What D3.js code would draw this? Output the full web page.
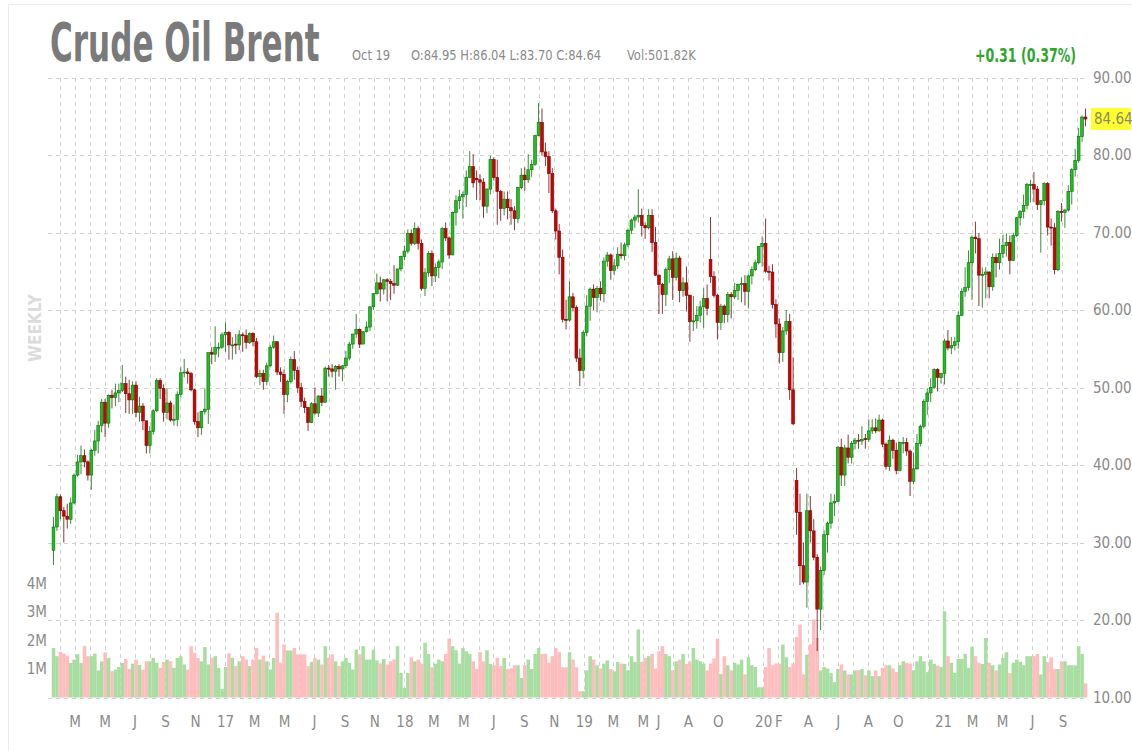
<!DOCTYPE html>
<html>
<body style="margin: 0; background: #fff">
  <script src="https://d3js.org/d3.v7.min.js"></script>

  <script>
    // weekly candles, first week starts Mon 18 Jan 2016, last one Mon 18 Oct 2021
    const FIRST_WEEK = new Date(2016, 0, 18);
    const LAST_WEEK = new Date(2021, 9, 18);

    const opens = [
      29.0, 32.0, 35.9, 34.1, 33.4, 33.0, 35.1, 38.7, 40.4, 41.2, 40.4, 38.7, 41.9, 43.1, 45.1, 48.1, 45.4, 49.0, 48.7, 49.3,
      49.6, 50.5, 49.2, 48.4, 50.3, 46.8, 47.6, 45.7, 42.5, 44.3, 47.0, 50.9, 49.9, 46.8, 48.0, 45.8, 45.9, 49.1, 51.9, 52.0,
      51.8, 49.7, 45.6, 44.8, 46.9, 47.2, 54.5, 54.3, 55.1, 55.2,
      56.8, 57.1, 55.4, 55.6, 55.5, 56.8, 56.7, 55.8, 57.0, 55.9, 51.4, 51.8, 50.8, 52.8, 55.2, 55.9, 52.0, 51.7, 49.1, 50.8,
      53.6, 52.2, 50.0, 48.2, 47.4, 45.5, 47.9, 46.7, 48.9, 48.1, 52.5, 52.4, 52.1, 52.7, 52.4, 52.8, 53.8, 55.6, 56.9, 57.5,
      55.6, 57.2, 57.8, 60.4, 62.1, 63.5, 62.7, 63.9, 63.7, 63.4, 63.2, 65.3,
      66.9, 67.6, 69.9, 68.6, 70.5, 68.6, 62.8, 64.8, 67.3, 64.4, 65.5, 66.2, 70.5, 69.3, 67.1, 72.6, 74.1, 74.6, 74.9, 77.1,
      78.5, 77.0, 76.8, 76.5, 73.4, 75.6, 79.4, 77.1, 75.3, 73.1, 74.3, 73.2, 72.8, 71.8, 75.8, 77.4, 76.8, 78.1, 78.8, 82.5,
      84.2, 80.4, 79.8, 77.6, 72.8, 70.2, 66.8, 58.8, 58.7, 61.7, 60.3, 53.8,
      52.2, 57.1, 60.5, 62.7, 61.6, 62.8, 62.1, 66.3, 67.1, 65.1, 65.7, 67.2, 67.0, 68.4, 70.3, 71.6, 72.0, 72.2, 70.9, 70.6,
      72.2, 68.7, 64.5, 63.3, 62.0, 65.2, 66.6, 64.2, 66.7, 62.5, 63.5, 61.9, 58.5, 58.6, 59.3, 60.4, 61.5, 66.5, 64.3, 61.9,
      58.4, 60.5, 59.4, 62.0, 61.7, 62.5, 63.3, 63.4, 62.4, 64.4, 65.2, 66.1, 68.2,
      68.6, 65.0, 64.9, 60.7, 58.2, 54.5, 57.3, 58.5, 49.7, 38.0, 33.9, 27.0, 24.9, 34.1, 31.5, 28.1, 21.4, 26.4, 31.0, 32.5,
      35.1, 35.3, 42.3, 38.7, 42.2, 41.0, 42.8, 43.2, 43.1, 43.4, 43.3, 44.4, 44.8, 44.4, 45.8, 42.7, 39.8, 43.2, 41.9, 39.3,
      42.8, 42.9, 41.8, 37.9, 39.5, 42.8, 45.0, 48.2, 49.3, 50.0, 52.3, 51.3,
      51.8, 56.0, 55.1, 55.4, 55.9, 59.3, 62.4, 62.9, 66.1, 69.4, 69.2, 64.5, 64.6, 64.9, 63.0, 66.8, 66.1, 67.3, 68.3, 68.7,
      66.4, 69.6, 71.9, 72.7, 73.5, 76.1, 76.2, 75.6, 73.6, 74.1, 76.3, 70.7, 70.6, 65.2, 72.7, 72.6, 72.9, 75.3, 78.1, 79.3,
      82.4, 84.9
    ];
    const highs = [
      33.3, 36.3, 36.2, 34.6, 35.0, 35.8, 38.9, 41.3, 42.5, 42.0, 40.6, 42.1, 44.5, 45.7, 48.5, 48.5, 49.1, 49.7, 50.5, 50.5,
      52.9, 51.4, 51.0, 50.8, 50.8, 48.8, 48.0, 45.7, 45.0, 47.2, 51.2, 51.2, 50.4, 49.9, 48.3, 47.8, 49.5, 52.6, 53.7, 52.5,
      52.0, 49.8, 46.8, 47.0, 49.9, 54.5, 55.2, 57.9, 55.8, 57.1,
      58.4, 57.3, 56.5, 56.9, 57.4, 57.1, 57.5, 57.1, 57.1, 56.4, 52.3, 52.3, 53.2, 55.5, 56.7, 56.0, 52.6, 52.3, 51.0, 54.0,
      54.7, 52.7, 50.6, 48.7, 47.5, 48.1, 50.0, 49.0, 49.9, 52.7, 52.9, 53.0, 52.9, 53.0, 52.9, 54.7, 55.9, 56.9, 59.5, 57.6,
      57.3, 58.5, 60.5, 62.2, 64.7, 64.3, 64.0, 64.1, 64.0, 65.8, 65.3, 67.0,
      68.3, 70.4, 70.4, 71.3, 70.8, 69.1, 65.4, 67.6, 67.7, 66.0, 66.5, 70.7, 71.3, 69.5, 72.7, 74.8, 75.5, 75.3, 78.0, 80.5,
      80.1, 78.0, 77.5, 77.0, 75.7, 79.9, 79.7, 79.4, 75.5, 75.3, 75.3, 74.3, 73.4, 75.9, 78.3, 78.4, 80.1, 79.4, 82.6, 86.7,
      86.0, 81.6, 80.5, 78.3, 73.1, 71.1, 67.8, 61.3, 63.7, 62.2, 60.6, 55.0,
      57.4, 61.9, 62.9, 63.3, 63.1, 63.7, 66.8, 67.5, 67.3, 66.6, 68.1, 68.7, 68.7, 70.5, 71.8, 72.3, 75.6, 73.1, 71.3, 73.0,
      73.0, 70.7, 64.6, 63.5, 65.5, 67.0, 67.6, 67.4, 67.0, 64.2, 65.6, 62.0, 61.8, 60.5, 61.2, 62.8, 63.3, 72.0, 65.0, 62.1,
      60.8, 60.7, 62.3, 62.3, 63.5, 63.4, 64.2, 64.5, 64.6, 65.6, 66.5, 68.2, 69.5,
      71.8, 65.7, 65.9, 61.4, 58.9, 57.8, 60.0, 59.5, 53.9, 39.6, 36.3, 30.0, 36.3, 36.0, 33.0, 28.5, 26.9, 31.6, 32.7, 36.3,
      36.2, 42.4, 43.4, 42.6, 43.9, 43.1, 43.5, 44.0, 45.0, 44.0, 45.9, 45.9, 46.0, 46.5, 46.0, 42.9, 43.8, 43.4, 42.9, 43.0,
      43.6, 43.5, 42.0, 41.6, 44.0, 45.2, 48.5, 49.9, 51.2, 52.5, 52.5, 51.9,
      56.3, 57.4, 56.5, 56.5, 59.8, 62.8, 65.5, 67.7, 69.6, 71.4, 69.9, 65.5, 65.5, 65.0, 67.3, 67.3, 69.2, 69.7, 69.9, 69.6,
      70.0, 72.0, 72.9, 74.9, 76.4, 76.8, 77.8, 76.0, 74.2, 76.5, 76.5, 71.8, 71.2, 72.9, 73.8, 73.0, 76.1, 78.3, 80.8, 83.5,
      85.1, 86.0
    ];
    const lows = [
      27.1, 31.5, 33.0, 30.0, 31.8, 32.4, 34.9, 38.5, 38.8, 39.7, 38.0, 36.8, 41.2, 41.5, 44.2, 43.6, 44.8, 47.3, 47.6, 48.1,
      49.4, 46.7, 46.6, 46.6, 46.2, 45.6, 44.5, 41.5, 41.5, 43.9, 46.8, 48.5, 45.6, 45.9, 45.6, 45.1, 45.0, 48.7, 51.3, 50.5,
      49.5, 45.2, 43.6, 43.9, 46.5, 45.3, 53.0, 53.3, 53.9, 55.0,
      54.6, 53.6, 53.6, 54.3, 54.8, 54.6, 55.0, 55.6, 55.3, 51.2, 50.3, 49.7, 50.3, 52.6, 55.0, 51.6, 50.7, 46.6, 48.1, 50.5,
      51.0, 49.3, 47.5, 46.7, 44.4, 45.4, 46.5, 46.2, 47.6, 48.0, 51.4, 51.3, 49.7, 51.4, 50.8, 52.5, 53.5, 55.0, 56.4, 55.1,
      55.6, 57.1, 57.3, 60.0, 62.0, 61.1, 62.0, 61.1, 61.3, 62.1, 63.1, 65.0,
      66.4, 67.3, 68.3, 68.4, 67.8, 62.5, 61.8, 64.3, 63.1, 63.6, 64.1, 65.3, 68.9, 66.6, 67.1, 70.9, 73.0, 71.8, 73.3, 77.0,
      75.8, 74.2, 74.2, 71.9, 72.5, 74.9, 76.7, 71.0, 71.5, 72.2, 71.7, 71.0, 70.3, 71.2, 75.6, 75.4, 76.4, 77.2, 78.6, 82.4,
      79.9, 78.6, 75.1, 72.5, 69.1, 64.6, 58.4, 57.5, 58.5, 59.8, 53.3, 50.2,
      51.2, 56.6, 58.6, 60.0, 59.7, 61.2, 61.0, 65.6, 63.9, 64.5, 65.3, 66.6, 66.4, 68.1, 69.8, 70.6, 71.3, 69.5, 69.2, 70.4,
      67.5, 64.4, 59.5, 59.5, 60.5, 63.5, 61.3, 63.8, 61.0, 61.7, 59.8, 55.9, 57.3, 57.6, 58.4, 57.7, 59.3, 63.5, 61.6, 56.2,
      57.4, 58.3, 58.4, 58.9, 61.4, 61.3, 61.0, 60.6, 60.2, 63.3, 65.0, 65.9, 65.6,
      64.8, 63.8, 60.2, 56.4, 53.1, 53.3, 56.8, 48.4, 45.2, 31.0, 24.5, 24.6, 21.6, 30.0, 27.7, 16.0, 18.7, 25.8, 28.7, 31.8,
      33.4, 35.2, 37.3, 37.3, 40.2, 40.2, 42.0, 42.1, 42.6, 42.1, 43.0, 44.0, 44.1, 44.3, 42.3, 39.4, 39.2, 40.8, 38.8, 39.2,
      41.5, 41.2, 36.0, 37.5, 39.4, 42.4, 44.7, 46.5, 48.1, 49.8, 49.5, 50.5,
      50.4, 54.8, 54.3, 54.8, 55.0, 59.3, 61.7, 62.5, 61.3, 67.3, 60.5, 60.3, 61.5, 61.5, 62.5, 64.2, 65.2, 66.7, 66.9, 64.6,
      66.3, 69.4, 70.9, 71.8, 73.0, 73.9, 73.9, 72.9, 67.4, 73.5, 69.6, 68.3, 64.6, 65.0, 71.4, 70.6, 72.7, 73.6, 77.2, 79.0,
      81.7, 83.7
    ];
    const closes = [
      32.0, 35.9, 34.1, 33.4, 33.0, 35.1, 38.7, 40.4, 41.2, 40.4, 38.7, 41.9, 43.1, 45.1, 48.1, 45.4, 49.0, 48.7, 49.3, 49.6,
      50.5, 49.2, 48.4, 50.3, 46.8, 47.6, 45.7, 42.5, 44.3, 47.0, 50.9, 49.9, 46.8, 48.0, 45.8, 45.9, 49.1, 51.9, 52.0, 51.8,
      49.7, 45.6, 44.8, 46.9, 47.2, 54.5, 54.3, 55.2, 55.2, 56.8,
      57.1, 55.5, 55.5, 55.5, 56.8, 56.7, 55.8, 57.0, 55.9, 51.4, 51.8, 50.8, 52.8, 55.2, 55.9, 52.0, 51.7, 49.1, 50.8, 53.6,
      52.2, 50.0, 48.2, 47.4, 45.5, 47.9, 46.7, 48.9, 48.1, 52.5, 52.4, 52.1, 52.7, 52.4, 52.8, 53.8, 55.6, 56.9, 57.5, 55.6,
      57.2, 57.8, 60.4, 62.1, 63.5, 62.7, 63.9, 63.7, 63.4, 63.2, 65.3, 66.9,
      67.6, 69.9, 68.6, 70.5, 68.6, 62.8, 64.8, 67.3, 64.4, 65.5, 66.2, 70.5, 69.3, 67.1, 72.6, 74.1, 74.6, 74.9, 77.1, 78.5,
      76.4, 76.8, 76.5, 73.4, 75.6, 79.4, 77.1, 75.3, 73.1, 74.3, 73.2, 72.8, 71.8, 75.8, 77.4, 76.8, 78.1, 78.8, 82.5, 84.2,
      80.4, 79.8, 77.6, 72.8, 70.2, 66.8, 58.8, 58.7, 61.7, 60.3, 53.8, 52.2,
      57.1, 60.5, 62.7, 61.6, 62.8, 62.1, 66.3, 67.1, 65.1, 65.7, 67.2, 67.0, 68.4, 70.3, 71.6, 72.0, 72.2, 70.9, 70.6, 72.2,
      68.7, 64.5, 63.3, 62.0, 65.2, 66.6, 64.2, 66.7, 62.5, 63.5, 61.9, 58.5, 58.6, 59.3, 60.4, 61.5, 60.2, 64.3, 61.9, 58.4,
      60.5, 59.4, 62.0, 61.7, 62.5, 63.3, 63.4, 62.4, 64.4, 65.2, 66.1, 68.2, 68.6,
      65.0, 64.9, 60.7, 58.2, 54.5, 57.3, 58.5, 49.7, 45.3, 33.9, 27.0, 24.9, 34.1, 31.5, 28.1, 21.4, 26.4, 31.0, 32.5, 35.1,
      35.3, 42.3, 38.7, 42.2, 41.0, 42.8, 43.2, 43.1, 43.3, 43.3, 44.4, 44.8, 44.4, 45.8, 42.7, 39.8, 43.2, 41.9, 39.3, 42.9,
      42.9, 41.8, 37.9, 39.5, 42.8, 45.0, 48.2, 49.3, 50.0, 52.3, 51.3, 51.8,
      56.0, 55.1, 55.4, 55.9, 59.3, 62.4, 62.9, 66.1, 69.4, 69.2, 64.5, 64.6, 64.9, 63.0, 66.8, 66.1, 67.3, 68.3, 68.7, 66.4,
      69.6, 71.9, 72.7, 73.5, 76.2, 76.2, 75.6, 73.6, 74.1, 76.3, 70.7, 70.6, 65.2, 72.7, 72.6, 72.9, 75.3, 78.1, 79.3, 82.4,
      84.9, 84.64
    ];
    // weekly volume, millions of contracts
    const volumes = [
      1.74, 1.45, 1.60, 1.54, 1.47, 1.21, 1.33, 1.52, 1.21, 1.80, 1.45, 1.45, 1.54, 0.95, 1.27, 1.58, 1.39, 0.92, 0.98, 1.07,
      1.21, 1.35, 1.00, 1.19, 1.33, 1.14, 0.98, 1.27, 1.27, 1.39, 1.22, 1.04, 1.25, 1.33, 1.27, 1.04, 1.39, 1.45, 1.16, 0.98,
      1.80, 1.57, 1.39, 1.27, 1.77, 1.16, 1.39, 1.45, 1.04, 0.30,
      1.07, 1.55, 1.39, 1.10, 1.27, 1.45, 1.33, 1.10, 1.33, 1.74, 1.33, 1.47, 1.27, 0.98, 1.39, 2.97, 1.22, 1.86, 1.65, 1.65,
      1.74, 1.51, 1.51, 1.51, 1.10, 1.25, 1.39, 1.33, 1.16, 1.80, 1.39, 1.51, 1.27, 1.10, 1.27, 1.39, 1.22, 0.98, 1.68, 1.51,
      1.80, 1.33, 1.33, 1.68, 1.30, 1.20, 1.35, 1.16, 1.27, 1.33, 1.80, 0.86,
      0.34, 0.86, 1.41, 1.27, 1.33, 1.19, 1.92, 1.53, 1.06, 1.19, 1.33, 1.27, 1.53, 2.06, 1.80, 1.66, 1.19, 1.74, 1.62, 1.53,
      1.27, 1.00, 1.59, 1.27, 1.66, 1.18, 1.13, 1.39, 1.10, 1.39, 1.00, 1.02, 1.13, 1.13, 0.69, 1.13, 1.33, 1.00, 1.53, 1.74,
      1.53, 1.53, 1.22, 1.45, 1.74, 1.59, 1.06, 1.06, 1.59, 1.33, 1.06, 0.22,
      0.22, 0.95, 1.45, 1.33, 1.13, 1.02, 1.19, 1.30, 1.00, 0.92, 1.25, 1.19, 1.18, 0.95, 1.45, 1.25, 2.39, 1.25, 1.39, 1.45,
      1.53, 1.02, 1.62, 1.80, 1.53, 1.45, 0.95, 1.27, 1.33, 1.53, 1.18, 1.27, 1.74, 1.33, 1.27, 1.19, 0.95, 1.19, 1.37, 2.06,
      0.83, 1.45, 1.13, 0.95, 1.22, 1.16, 1.33, 0.81, 1.41, 1.13, 1.07, 0.36, 0.36,
      1.07, 1.74, 1.13, 1.19, 1.19, 1.86, 1.41, 1.07, 1.19, 2.12, 2.56, 0.81, 1.50, 1.86, 2.74, 2.09, 0.95, 1.07, 1.02, 0.86,
      0.54, 1.00, 1.16, 0.95, 0.81, 0.81, 0.95, 0.96, 1.00, 0.78, 0.95, 0.75, 0.95, 0.75, 1.04, 1.13, 1.13, 1.02, 0.89, 1.13,
      1.27, 1.22, 1.19, 0.95, 1.27, 1.45, 1.27, 0.89, 1.33, 1.18, 1.12, 1.07,
      3.03, 1.45, 1.22, 0.86, 1.35, 1.35, 1.53, 1.04, 1.78, 1.45, 1.22, 1.18, 2.09, 1.22, 1.13, 0.95, 1.16, 1.39, 1.59, 0.86,
      1.22, 1.33, 1.25, 1.13, 1.45, 1.45, 1.45, 1.53, 0.81, 1.45, 1.25, 1.41, 1.00, 1.00, 1.27, 1.27, 1.13, 1.13, 1.13, 1.80,
      1.53, 0.50
    ];

    const priceTicks = [10, 20, 30, 40, 50, 60, 70, 80, 90];
    const volumeTicks = [1, 2, 3, 4];
    const tickMonths = ["2016-03", "2016-05", "2016-07", "2016-09", "2016-11", "2017-01", "2017-03", "2017-05",
      "2017-07", "2017-09", "2017-11", "2018-01", "2018-03", "2018-05", "2018-07", "2018-09", "2018-11", "2019-01",
      "2019-03", "2019-05", "2019-06", "2019-08", "2019-10", "2020-01", "2020-02", "2020-04", "2020-06", "2020-08",
      "2020-10", "2021-01", "2021-03", "2021-05", "2021-07", "2021-09"];
    const tickLabels = ["M", "M", "J", "S", "N", "17", "M", "M", "J", "S", "N", "18", "M", "M", "J", "S", "N", "19",
      "M", "M", "J", "A", "O", "20", "F", "A", "J", "A", "O", "21", "M", "M", "J", "S"];

    const FONT = "'Liberation Sans Narrow', 'Arial Narrow', 'DejaVu Sans Condensed', sans-serif";
    const width = 1132;
    const height = 751;
    const plotLeft = 48;
    const plotRight = 1088;

    const weeks = d3.timeMonday.range(FIRST_WEEK, d3.timeDay.offset(LAST_WEEK, 1));
    const candles = weeks.map((d, i) => ({
      date: d, o: opens[i], h: highs[i], l: lows[i], c: closes[i], v: volumes[i]
    }));

    const svg = d3.select("body").append("svg")
      .attr("width", width)
      .attr("height", height)
      .style("display", "block")
      .style("font-family", FONT);

    // faint frame round the widget
    svg.append("rect")
      .attr("x", 8.5).attr("y", 4.5)
      .attr("width", width).attr("height", height)
      .attr("fill", "none")
      .attr("stroke", "#ececec");

    const x = d3.scaleTime()
      .domain([new Date(2017, 0, 1), new Date(2021, 0, 1)])
      .range([225, 943]);
    const y = d3.scaleLinear().domain([10, 90]).range([697.5, 77.5]);
    const yVol = d3.scaleLinear().domain([0, 4]).range([697.5, 583.5]);

    // grid
    const grid = svg.append("g")
      .attr("stroke", "#d0d0d0")
      .attr("stroke-dasharray", "4,4")
      .attr("stroke-width", 1);

    grid.selectAll(".vgrid")
      .data(d3.timeMonth.range(new Date(2016, 1, 1), new Date(2021, 10, 1)))
      .enter()
      .append("line")
      .attr("x1", (d) => Math.round(x(d)) + 0.5)
      .attr("x2", (d) => Math.round(x(d)) + 0.5)
      .attr("y1", 78)
      .attr("y2", 698);

    grid.selectAll(".hgrid")
      .data(priceTicks)
      .enter()
      .append("line")
      .attr("x1", plotLeft)
      .attr("x2", plotRight)
      .attr("y1", (d) => Math.round(y(d)) + 0.5)
      .attr("y2", (d) => Math.round(y(d)) + 0.5);

    const step = x(new Date(2016, 0, 25)) - x(new Date(2016, 0, 18));

    // volume
    svg.append("g").selectAll("rect")
      .data(candles)
      .enter()
      .append("rect")
      .attr("x", (d) => x(d.date) - step / 2)
      .attr("width", step + 0.1)
      .attr("y", (d) => yVol(d.v))
      .attr("height", (d) => yVol(0) - yVol(d.v))
      .attr("fill", (d) => d.c >= d.o ? "#a9dea3" : "#ffbdbd");

    // candles
    const up = { fill: "#1fbf1f", edge: "#0d6e0d" };
    const down = { fill: "#d40000", edge: "#6e0606" };
    const colour = (d) => d.c >= d.o ? up : down;

    const cg = svg.append("g");
    cg.selectAll("line")
      .data(candles)
      .enter()
      .append("line")
      .attr("x1", (d) => x(d.date))
      .attr("x2", (d) => x(d.date))
      .attr("y1", (d) => y(d.h))
      .attr("y2", (d) => y(d.l))
      .attr("stroke", (d) => colour(d).edge)
      .attr("stroke-opacity", 0.8)
      .attr("stroke-width", 1);

    cg.selectAll("rect")
      .data(candles)
      .enter()
      .append("rect")
      .attr("x", (d) => x(d.date) - 1.4)
      .attr("width", 2.8)
      .attr("y", (d) => y(Math.max(d.o, d.c)))
      .attr("height", (d) => Math.max(1, Math.abs(y(d.o) - y(d.c))))
      .attr("fill", (d) => colour(d).fill)
      .attr("stroke", (d) => colour(d).edge)
      .attr("stroke-width", 0.6);

    // axes
    const yAxis = svg.append("g")
      .attr("transform", `translate(${plotRight + 2},0)`)
      .call(d3.axisRight(y).tickValues(priceTicks).tickFormat(d3.format(".2f")).tickSize(0).tickPadding(3));
    yAxis.select(".domain").remove();
    yAxis.selectAll("text")
      .attr("fill", "#8a8a8a")
      .style("font-family", FONT)
      .style("font-size", "15px");

    const volAxis = svg.append("g")
      .attr("transform", `translate(${plotLeft},0)`)
      .call(d3.axisLeft(yVol).tickValues(volumeTicks).tickFormat((d) => d + "M").tickSize(0).tickPadding(1));
    volAxis.select(".domain").remove();
    volAxis.selectAll("text")
      .attr("fill", "#8a8a8a")
      .style("font-family", FONT)
      .style("font-size", "15px");

    const parseMonth = d3.timeParse("%Y-%m");
    const xAxis = svg.append("g")
      .attr("transform", "translate(0,716)")
      .call(d3.axisBottom(x)
        .tickValues(tickMonths.map(parseMonth))
        .tickFormat((d, i) => tickLabels[i])
        .tickSize(0)
        .tickPadding(0));
    xAxis.select(".domain").remove();
    xAxis.selectAll("text")
      .attr("fill", "#8a8a8a")
      .style("font-family", FONT)
      .style("font-size", "15px");

    // last price marker
    const last = candles[candles.length - 1];
    svg.append("rect")
      .attr("x", plotRight + 3)
      .attr("y", y(last.c) - 11)
      .attr("width", 40)
      .attr("height", 22)
      .attr("fill", "#ffff33");
    svg.append("text")
      .attr("x", plotRight + 6)
      .attr("y", y(last.c) + 5)
      .attr("fill", "#8c8c5a")
      .style("font-size", "15px")
      .text(d3.format(".2f")(last.c));

    // header: narrow fonts are not installed, so the text is stretched upward instead
    svg.append("text")
      .attr("transform", "translate(50,61) scale(1,1.52)")
      .attr("fill", "#7a7a7a")
      .attr("font-weight", "bold")
      .style("font-size", "34.5px")
      .text("Crude Oil Brent");

    const info = [
      { x: 352, t: "Oct 19" },
      { x: 411, t: "O:84.95 H:86.04 L:83.70 C:84.64" },
      { x: 627, t: "Vol:501.82K" }
    ];
    svg.selectAll(".info")
      .data(info)
      .enter()
      .append("text")
      .attr("transform", (d) => `translate(${d.x},60) scale(1,1.15)`)
      .attr("fill", "#8a8a8a")
      .style("font-size", "12.8px")
      .text((d) => d.t);

    svg.append("text")
      .attr("transform", "translate(975,62) scale(1,1.4)")
      .attr("fill", "#2fa52f")
      .attr("font-weight", "bold")
      .style("font-size", "14px")
      .text("+0.31 (0.37%)");

    svg.append("text")
      .attr("transform", "translate(41,328) rotate(-90)")
      .attr("text-anchor", "middle")
      .attr("fill", "#dcdcdc")
      .attr("font-weight", "bold")
      .style("font-size", "17px")
      .text("WEEKLY");
  </script>
</body>
</html>
